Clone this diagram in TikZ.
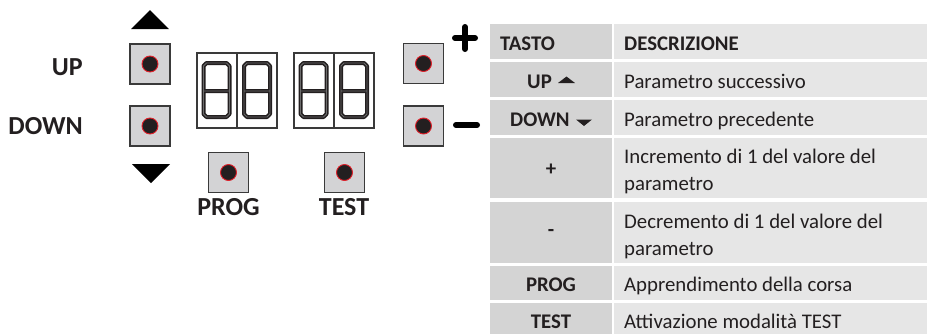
\documentclass[tikz,border=0pt]{standalone}
\usepackage{fontspec}
\setmainfont{Carlito}
\definecolor{ink}{HTML}{231F20}
\definecolor{btnfill}{HTML}{D3D3D5}
\definecolor{btnline}{HTML}{3A3A3A}
\definecolor{keycell}{HTML}{D4D4D4}
\definecolor{desccell}{HTML}{E6E6E6}
\definecolor{dotred}{HTML}{E0202A}
\definecolor{seggray}{HTML}{6B6B6B}
\tikzset{
  btn/.style={draw=btnline, line width=1.8pt, fill=btnfill, minimum size=40pt, inner sep=0pt},
  ledot/.style={circle, draw=dotred, line width=0.9pt, fill=ink, minimum size=16pt, inner sep=0pt},
  lbl/.style={font=\fontsize{26}{30}\selectfont\bfseries, text=ink, inner sep=0pt},
  keyt/.style={font=\fontsize{20.8}{27}\selectfont\bfseries, text=ink, inner sep=0pt},
  desct/.style={font=\fontsize{20.8}{27}\selectfont, text=ink, inner sep=0pt, align=left},
  segcell/.style={draw=btnline, line width=1.3pt, fill=white},
  bigtri/.style={fill=black},
  smalltri/.style={fill=ink},
  signbar/.style={line width=6pt, line cap=round, draw=black},
}
\newcommand\eightdigit[2]{%
  \foreach \w/\c in {4/ink, 0.8/seggray}{%
    \draw[line width=\w pt, draw=\c, line join=round]
      (#1+3,#2) -- (#1+23,#2) -- (#1+26,#2+3) -- (#1+26,#2+51) -- (#1+23,#2+54)
      -- (#1+3,#2+54) -- (#1,#2+51) -- (#1,#2+3) -- cycle
      (#1,#2+28) -- (#1+26,#2+28);
  }%
}
\begin{document}
\begin{tikzpicture}[x=1pt,y=-1pt]
\useasboundingbox (0,0) rectangle (927,333);

% --- big arrows
\fill[bigtri] (131,29) -- (169,29) -- (150,10) -- cycle;
\fill[bigtri] (132,164) -- (170,164) -- (151,183) -- cycle;

% --- buttons
\node[btn] (bup) at (150,64) {};
\node[ledot] (dup) at (bup.center) {};
\node[btn] (bdown) at (150,126) {};
\node[ledot] (ddown) at (bdown.center) {};
\node[btn] (bprog) at (228.5,172.5) {};
\node[ledot] (dprog) at (bprog.center) {};
\node[btn] (btest) at (344.5,172.5) {};
\node[ledot] (dtest) at (btest.center) {};
\node[btn] (bplus) at (423.5,63.5) {};
\node[ledot] (dplus) at (bplus.center) {};
\node[btn] (bminus) at (423.5,126) {};
\node[ledot] (dminus) at (bminus.center) {};

% --- plus / minus signs
\draw[signbar] (455,38) -- (475,38) (465,27) -- (465,49);
\draw[signbar] (456,125) -- (477,125);

% --- labels
\node[lbl, anchor=base east] (lup) at (83,75.5) {UP};
\node[lbl, anchor=base east] (ldown) at (83,134) {DOWN};
\node[lbl, anchor=base] (lprog) at (228.5,215) {PROG};
\node[lbl, anchor=base] (ltest) at (344,215) {TEST};

% --- seven segment displays
\foreach \L in {197,237.5,294,334.5}{
  \draw[segcell] (\L,53) rectangle (\L+39.5,128);
}
\eightdigit{203.5}{63}
\eightdigit{244}{63}
\eightdigit{300.5}{63}
\eightdigit{341}{63}

% --- table
\foreach \t/\b in {24/59, 62/97, 100/135, 138/198, 202/263, 266/300, 303/334}{
  \fill[keycell] (490,\t) rectangle (612,\b);
  \fill[desccell] (614,\t) rectangle (927,\b);
}
\node[keyt, anchor=base west] (hkey) at (500,50) {TASTO};
\node[keyt, anchor=base west] (hdesc) at (624,50) {DESCRIZIONE};

\node[keyt, anchor=base west] (kup) at (527,88) {UP};
\fill[smalltri] (558,83) -- (575,83) -- (566.5,76.5) -- cycle;
\node[desct, anchor=base west] (dsup) at (624,88) {Parametro successivo};

\node[keyt, anchor=base west] (kdown) at (510,126) {DOWN};
\fill[smalltri] (576,119.5) -- (592,119.5) -- (584,126) -- cycle;
\node[desct, anchor=base west] (dsdown) at (624,126) {Parametro precedente};

\node[keyt, anchor=base] (kplus) at (551,175) {+};
\node[desct, anchor=base west] (dsplus) at (624,190) {Incremento di 1 del valore del\\parametro};

\node[keyt, anchor=base] (kminus) at (551,236) {-};
\node[desct, anchor=base west] (dsminus) at (624,255) {Decremento di 1 del valore del\\parametro};

\node[keyt, anchor=base] (kprog) at (551,291) {PROG};
\node[desct, anchor=base west] (dsprog) at (624,291) {Apprendimento della corsa};

\node[keyt, anchor=base] (ktest) at (551,328) {TEST};
\node[desct, anchor=base west] (dstest) at (624,328) {Attivazione modalità TEST};
\end{tikzpicture}
\end{document}
